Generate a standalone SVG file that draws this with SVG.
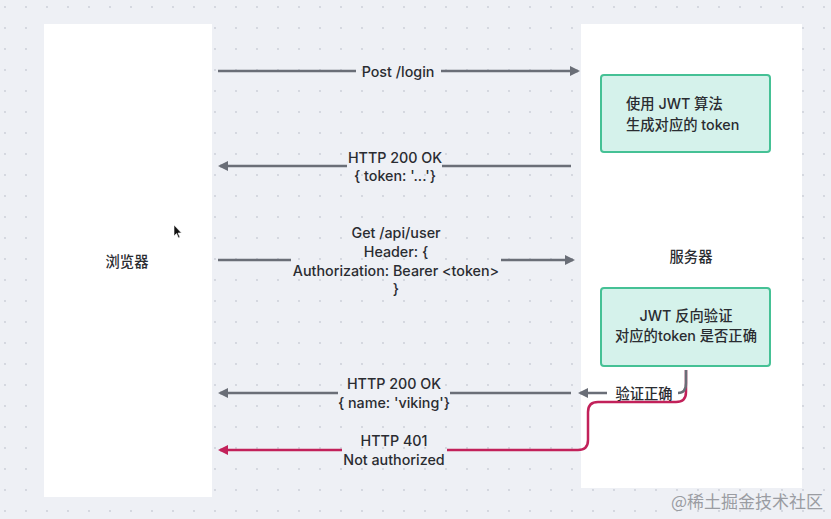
<svg xmlns="http://www.w3.org/2000/svg" width="831" height="519" viewBox="0 0 831 519">
<defs>
<pattern id="dots" width="21" height="21" patternUnits="userSpaceOnUse" x="4" y="6">
<circle cx="1" cy="1" r="0.9" fill="#c9cdd6"/>
</pattern>
<marker id="ag" viewBox="0 0 10 10" refX="8" refY="5" markerWidth="4" markerHeight="4" orient="auto-start-reverse" markerUnits="strokeWidth">
<path d="M0,0 L10,5 L0,10 Z" fill="#6a6e77"/>
</marker>
<marker id="ar" viewBox="0 0 10 10" refX="8" refY="5" markerWidth="4" markerHeight="4" orient="auto-start-reverse" markerUnits="strokeWidth">
<path d="M0,0 L10,5 L0,10 Z" fill="#c2215a"/>
</marker>
<style>
.lane{fill:#ffffff;stroke:none}
.box{fill:#d5f2eb;stroke:#45c195;stroke-width:2}
.t{font-family:Inter,"Noto Sans","Noto Sans CJK SC",sans-serif;font-size:14.3px;font-weight:500;fill:#2a2c31;text-anchor:middle;dominant-baseline:central}
.g{fill:none;stroke:#6a6e77;stroke-width:2.5}
.r{fill:none;stroke:#c2215a;stroke-width:2.5}
.lbl{font-family:Inter,"Noto Sans","Noto Sans CJK SC",sans-serif;font-size:14.3px;font-weight:500;fill:#2a2c31;text-anchor:middle;dominant-baseline:central}
</style>
</defs>
<rect width="831" height="519" fill="#eef0f5"/>
<rect width="831" height="519" fill="url(#dots)"/>

<g id="browser">
<rect class="lane" x="44" y="24" width="168" height="473"/>
<text class="t" x="127" y="261">浏览器</text>
</g>
<g id="server">
<rect class="lane" x="581" y="24" width="221" height="464"/>
<text class="t" x="691" y="256">服务器</text>
</g>
<g id="jwt-sign">
<rect class="box" x="601" y="75" width="169" height="77" rx="3"/>
<text class="t" x="626" y="103" style="text-anchor:start">使用 JWT 算法</text>
<text class="t" x="626" y="124" style="text-anchor:start">生成对应的 token</text>
</g>
<g id="jwt-verify">
<rect class="box" x="601" y="288" width="169" height="78" rx="3"/>
<text class="t" x="686" y="315">JWT 反向验证</text>
<text class="t" x="686" y="335">对应的token 是否正确</text>
</g>

<g id="connectors">
<path class="g" d="M218,71 H356 M441,71 H578" marker-end="url(#ag)"/>
<path class="g" d="M571,166 H442 M347,166 H220" marker-end="url(#ag)"/>
<path class="g" d="M218,260 H291 M501,260 H573" marker-end="url(#ag)"/>
<path class="g" d="M571,393 H450 M338,393 H220" marker-end="url(#ag)"/>
<path class="r" d="M578,450 H447 M342,450 H220" marker-end="url(#ar)"/>
<path class="r" d="M686,370 V392 Q686,402 676,402 H598 Q588,402 588,412 V440 Q588,450 578,450"/>
<path class="g" d="M686,370 V383 Q686,393 678,393 M607,393 H580" marker-end="url(#ag)"/>
<text class="lbl" x="398" y="71">Post /login</text>
<text class="lbl" x="395" y="157">HTTP 200 OK</text>
<text class="lbl" x="395" y="175">{ token: '...'}</text>
<text class="lbl" x="396" y="232">Get /api/user</text>
<text class="lbl" x="396" y="251">Header: {</text>
<text class="lbl" x="396" y="270">Authorization: Bearer &lt;token&gt;</text>
<text class="lbl" x="396" y="288">}</text>
<text class="lbl" x="394" y="383">HTTP 200 OK</text>
<text class="lbl" x="394" y="402">{ name: 'viking'}</text>
<text class="lbl" x="394" y="440">HTTP 401</text>
<text class="lbl" x="394" y="459">Not authorized</text>
<text class="lbl" x="644" y="393">验证正确</text>
</g>

<path d="M174,225 L174,236 L176.5,233.5 L178.5,238 L180,237.3 L178,233 L181.5,233 Z" fill="#111" stroke="#fff" stroke-width="0.6"/>
<text x="747" y="500" style="font-family:'Noto Sans CJK SC',sans-serif;font-size:17px;fill:#9a9ca2;text-anchor:middle;dominant-baseline:central">@稀土掘金技术社区</text>
</svg>
